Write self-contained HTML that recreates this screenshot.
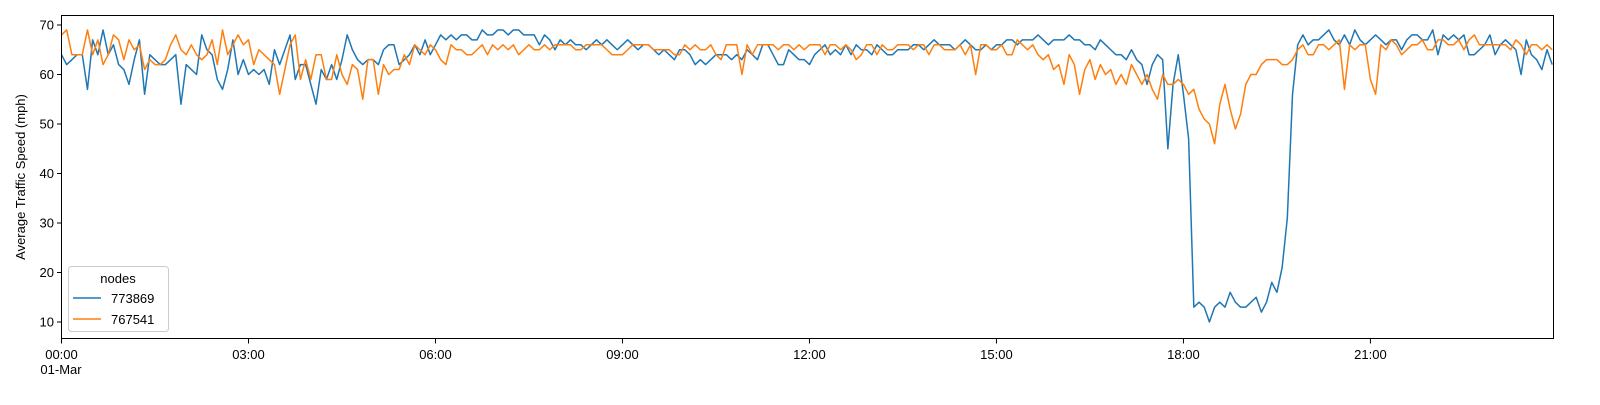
<!DOCTYPE html>
<html><head><meta charset="utf-8"><style>
body{margin:0;background:#fff;}
svg text{font-family:"Liberation Sans","DejaVu Sans",sans-serif;fill:#000;}
</style></head><body>
<svg id="chart" width="1600" height="400" viewBox="0 0 1600 400" xmlns="http://www.w3.org/2000/svg">
<rect x="0" y="0" width="1600" height="400" fill="#fff"/>
<g id="lines"></g>
<g id="axes"></g>
<rect x="61.5" y="15.5" width="1492" height="323" fill="none" stroke="#000" stroke-width="1"/>
<text transform="translate(25,177) rotate(-90)" text-anchor="middle" font-size="13">Average Traffic Speed (mph)</text>
<g>
<rect x="68.5" y="266.5" width="100" height="65" rx="3" fill="#fff" fill-opacity="0.8" stroke="#ccc"/>
<text x="118" y="283" text-anchor="middle" font-size="13">nodes</text>
<line x1="73" y1="298" x2="101" y2="298" stroke="#1f77b4" stroke-width="1.5"/>
<text x="111" y="303" font-size="13">773869</text>
<line x1="73" y1="319" x2="101" y2="319" stroke="#ff7f0e" stroke-width="1.5"/>
<text x="111" y="324" font-size="13">767541</text>
</g>
</svg>
<script>
const blueValues = [
64,62,63,64,64,57,67,64,69,64,66,62,
61,58,63,67,56,64,63,62,62,63,64,54,
62,61,60,68,65,64,59,57,61,67,60,63,
60,61,60,61,58,65,62,65,68,59,62,62,
58,54,61,59,62,59,63,68,65,63,62,63,
63,62,65,66,66,62,63,64,66,64,67,64,
66,68,67,68,67,68,68,67,67,69,68,68,
69,69,68,69,69,68,68,68,66,68,67,65,
67,66,67,66,66,65,66,67,66,67,66,65,
66,67,66,65,66,66,65,64,65,64,63,65,
65,64,62,63,62,63,64,64,64,63,64,63,
65,64,63,66,66,64,62,62,65,64,63,63,
62,64,65,66,64,65,64,66,64,66,65,65,
64,66,65,64,64,65,65,65,66,66,65,66,
67,66,66,66,65,66,67,66,65,65,66,65,
66,66,67,67,66,67,67,67,68,67,66,67,
67,67,68,67,67,66,66,65,67,66,65,64,
64,63,65,63,62,58,62,64,63,45,58,64,
56,47,13,14,13,10,13,14,13,16,14,13,
13,14,15,12,14,18,16,21,31,56,66,68,
66,67,67,68,69,67,66,68,66,69,67,66,
67,68,67,66,67,67,65,67,68,68,67,67,
69,64,68,67,68,67,68,64,64,65,66,68,
64,66,67,66,65,60,67,64,63,61,65,62];
const orangeValues = [
68,69,64,64,64,69,64,67,62,64,68,67,
63,67,65,66,61,63,62,62,63,66,68,65,
64,66,64,63,64,67,62,69,64,66,68,66,
67,62,65,64,63,62,56,61,66,68,59,63,
59,64,64,59,59,64,60,58,62,61,55,63,
63,56,62,60,61,61,64,62,66,65,64,66,
65,63,62,66,65,65,64,64,65,66,64,66,
65,66,65,66,64,65,66,65,65,66,65,66,
66,66,66,65,65,66,66,66,66,65,64,64,
64,65,66,66,66,66,65,65,65,65,64,64,
66,65,66,65,65,66,64,63,66,66,66,60,
66,64,66,66,66,66,65,66,66,65,66,65,
66,66,66,64,66,66,65,66,65,63,64,66,
66,64,66,65,65,66,66,66,65,66,66,64,
66,66,65,65,65,66,64,66,60,66,66,65,
65,66,64,64,67,66,65,66,64,63,64,61,
62,58,64,62,56,61,63,59,62,60,61,58,
60,58,62,60,58,60,57,55,60,58,58,59,
58,56,57,53,51,50,46,54,58,53,49,52,
58,60,60,62,63,63,63,62,62,63,65,66,
64,64,66,66,65,66,67,57,66,65,66,66,
59,56,66,65,67,66,64,65,66,66,67,65,
65,67,67,66,66,67,65,67,68,66,66,66,
66,66,66,65,67,66,64,66,66,65,66,65];
const yTicks = [10,20,30,40,50,60,70];
const xTickLabels = ["00:00","03:00","06:00","09:00","12:00","15:00","18:00","21:00"];
const xTickHours = [0,3,6,9,12,15,18,21];

const NS="http://www.w3.org/2000/svg";
const X0=61.5, PXH=62.33;
function xIdx(i){return X0+i*PXH/12;}
function xHour(h){return X0+h*PXH;}
function yv(v){return 322-(v-10)*4.95;}
const lines=document.getElementById('lines'), axes=document.getElementById('axes');
function mk(tag,attrs,parent){const e=document.createElementNS(NS,tag);for(const k in attrs)e.setAttribute(k,attrs[k]);parent.appendChild(e);return e;}
function series(vals,color,name){
  const d=vals.map((v,i)=>(i?'L':'M')+xIdx(i).toFixed(2)+','+yv(v).toFixed(2)).join('');
  const p=mk('path',{d:d,fill:'none',stroke:color,'stroke-width':1.5,'stroke-linejoin':'round'},lines);
  
  
}
series(blueValues,'#1f77b4','series-773869');
series(orangeValues,'#ff7f0e','series-767541');
yTicks.forEach(t=>{
  const y=yv(t);
  const l=mk('line',{x1:57,x2:61.5,y1:y,y2:y,stroke:'#000'},axes);
  
  
  const tx=mk('text',{x:54,y:y+4.5,'text-anchor':'end','font-size':13},axes);
  tx.textContent=t;
  
  
});
xTickHours.forEach((h,i)=>{
  const x=xHour(h);
  const l=mk('line',{x1:x,x2:x,y1:338.5,y2:343.5,stroke:'#000'},axes);
  
  
  const tx=mk('text',{x:x,y:359,'text-anchor':'middle','font-size':13},axes);
  tx.textContent=xTickLabels[i];
  
  
});
const dl=mk('text',{x:61,y:374,'text-anchor':'middle','font-size':13},axes);
dl.textContent='01-Mar';


</script>
</body></html>
